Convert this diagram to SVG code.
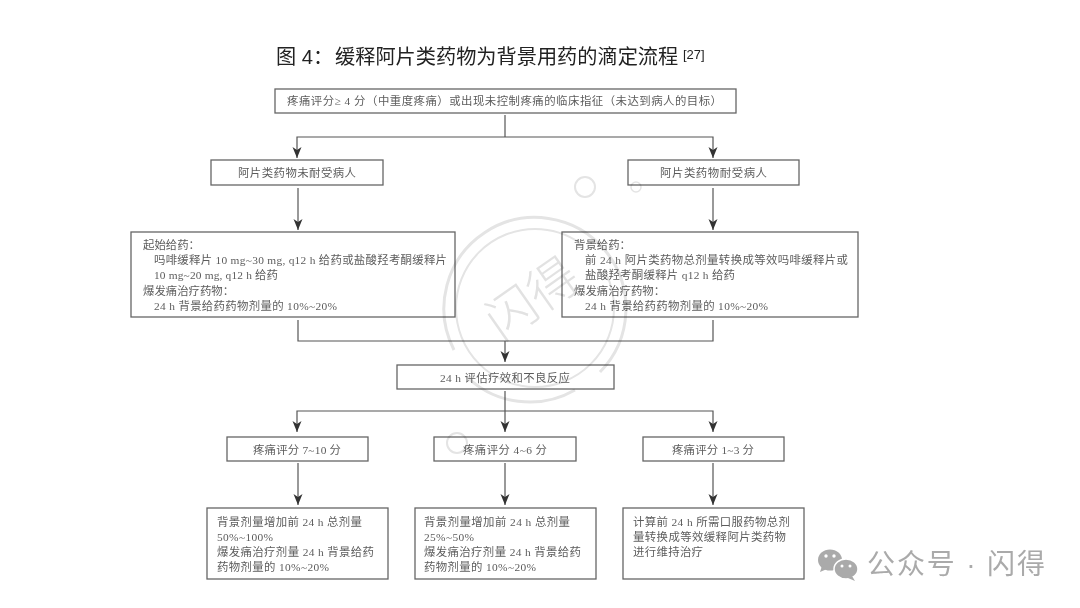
<svg xmlns="http://www.w3.org/2000/svg" width="1080" height="608" viewBox="0 0 1080 608">
<defs>
<marker id="arr" markerUnits="userSpaceOnUse" markerWidth="12" markerHeight="12" refX="11" refY="5" orient="auto" viewBox="0 0 12 10"><path d="M0 0.500L3 5L0 9.500L11 5Z" fill="#333"/></marker>
</defs>
<style>
.b{fill:#fff;stroke:#666;stroke-width:1.3}
.c{fill:none;stroke:#555;stroke-width:1.2}
.a{marker-end:url(#arr)}
text{font-family:"Liberation Serif","Noto Sans CJK SC",serif;font-size:11.4px;fill:#5c5c5c}
.t{font-family:"Liberation Sans","Noto Sans CJK SC",sans-serif;font-size:20.2px;fill:#222}
.w{font-family:"Liberation Sans","Noto Sans CJK SC",sans-serif;fill:#aaa;font-size:28px}
</style>
<rect width="1080" height="608" fill="#fff"/>
<g id="connectors">
<path class="c" d="M505 115V137"/>
<path class="c a" d="M505 137H297V158"/>
<path class="c a" d="M505 137H713V158"/>
<path class="c a" d="M298 188V230"/>
<path class="c a" d="M713 188V230"/>
<path class="c" d="M298 320V341H713V320"/>
<path class="c a" d="M505 341V362"/>
<path class="c" d="M505 391V411"/>
<path class="c a" d="M505 411H297V432"/>
<path class="c a" d="M505 411V432"/>
<path class="c a" d="M505 411H713V432"/>
<path class="c a" d="M298 463V505"/>
<path class="c a" d="M505 463V505"/>
<path class="c a" d="M713 463V505"/>
</g>
<text id="title" class="t" x="276" y="64">图 4：</text>
<text class="t" x="335" y="64">缓释阿片类药物为背景用药的滴定流程</text>
<text class="t" x="683" y="59" style="font-size:13px">[27]</text>
<g id="n1"><rect class="b" x="275" y="89" width="461" height="24"/><text x="287" y="105" textLength="435">疼痛评分≥ 4 分（中重度疼痛）或出现未控制疼痛的临床指征（未达到病人的目标）</text></g>
<g id="n2"><rect class="b" x="211" y="160" width="172" height="25"/><text x="238" y="177" textLength="118">阿片类药物未耐受病人</text></g>
<g id="n3"><rect class="b" x="628" y="160" width="171" height="25"/><text x="660" y="177" textLength="107">阿片类药物耐受病人</text></g>
<g id="n4"><rect class="b" x="131" y="232" width="324" height="85"/>
<text x="143" y="249">起始给药：</text><text x="154" y="264" textLength="293">吗啡缓释片 10 mg~30 mg, q12 h 给药或盐酸羟考酮缓释片</text><text x="154" y="279" textLength="124">10 mg~20 mg, q12 h 给药</text><text x="143" y="295">爆发痛治疗药物：</text><text x="154" y="310" textLength="183">24 h 背景给药药物剂量的 10%~20%</text></g>
<g id="n5"><rect class="b" x="562" y="232" width="296" height="85"/>
<text x="574" y="249">背景给药：</text><text x="585" y="264" textLength="263">前 24 h 阿片类药物总剂量转换成等效吗啡缓释片或</text><text x="585" y="279" textLength="150">盐酸羟考酮缓释片 q12 h 给药</text><text x="574" y="295">爆发痛治疗药物：</text><text x="585" y="310" textLength="183">24 h 背景给药药物剂量的 10%~20%</text></g>
<g id="n6"><rect class="b" x="397" y="365" width="217" height="24"/><text x="440" y="382" textLength="130">24 h 评估疗效和不良反应</text></g>
<g id="n7"><rect class="b" x="227" y="437" width="141" height="24"/><text x="253" y="454" textLength="88">疼痛评分 7~10 分</text></g>
<g id="n8"><rect class="b" x="434" y="437" width="142" height="24"/><text x="463" y="454" textLength="84">疼痛评分 4~6 分</text></g>
<g id="n9"><rect class="b" x="643" y="437" width="141" height="24"/><text x="672" y="454" textLength="82">疼痛评分 1~3 分</text></g>
<g id="n10"><rect class="b" x="207" y="508" width="181" height="71"/>
<text x="217" y="526" textLength="145">背景剂量增加前 24 h 总剂量</text><text x="217" y="541" textLength="56">50%~100%</text><text x="217" y="556" textLength="157">爆发痛治疗剂量 24 h 背景给药</text><text x="217" y="571" textLength="112">药物剂量的 10%~20%</text></g>
<g id="n11"><rect class="b" x="415" y="508" width="181" height="71"/>
<text x="424" y="526" textLength="146">背景剂量增加前 24 h 总剂量</text><text x="424" y="541" textLength="50">25%~50%</text><text x="424" y="556" textLength="157">爆发痛治疗剂量 24 h 背景给药</text><text x="424" y="571" textLength="112">药物剂量的 10%~20%</text></g>
<g id="n12"><rect class="b" x="623" y="508" width="181" height="71"/>
<text x="633" y="526" textLength="157">计算前 24 h 所需口服药物总剂</text><text x="633" y="541" textLength="153">量转换成等效缓释阿片类药物</text><text x="633" y="556" textLength="70">进行维持治疗</text></g>
<g id="watermark" fill="none" stroke="#e4e4e4" style="mix-blend-mode:multiply">
<path d="M454 350A91 91 0 1 1 600 372" stroke-width="3"/>
<path d="M466 376A91 91 0 0 0 575 390" stroke-width="3"/>
<circle cx="535" cy="308" r="79" stroke-width="2" stroke-dasharray="420 40"/>
<circle cx="585" cy="187" r="10" stroke-width="2"/>
<circle cx="636" cy="187" r="5" stroke-width="1.500"/>
<circle cx="457" cy="443" r="10" stroke-width="2"/>
<text x="533" y="316" text-anchor="middle" transform="rotate(-35 533 300)" style="font-size:50px;fill:#e2e2e2;stroke:none;font-family:'Noto Sans CJK SC',sans-serif;font-weight:300">闪得</text>
</g>
<g id="wechat" fill="#aaa">
<ellipse cx="830" cy="560" rx="12" ry="10.500"/>
<path d="M822 566l-2 6 7-3z"/>
<ellipse cx="846" cy="569" rx="12" ry="10" stroke="#fff" stroke-width="1.500"/>
<path d="M852 576l3 5-7-3z"/>
<circle cx="826" cy="556" r="1.700" fill="#fff"/><circle cx="834" cy="556" r="1.700" fill="#fff"/>
<circle cx="842" cy="566" r="1.500" fill="#fff"/><circle cx="850" cy="566" r="1.500" fill="#fff"/>
<text class="w" x="867" y="574" textLength="178">公众号 · 闪得</text>
</g>
</svg>
